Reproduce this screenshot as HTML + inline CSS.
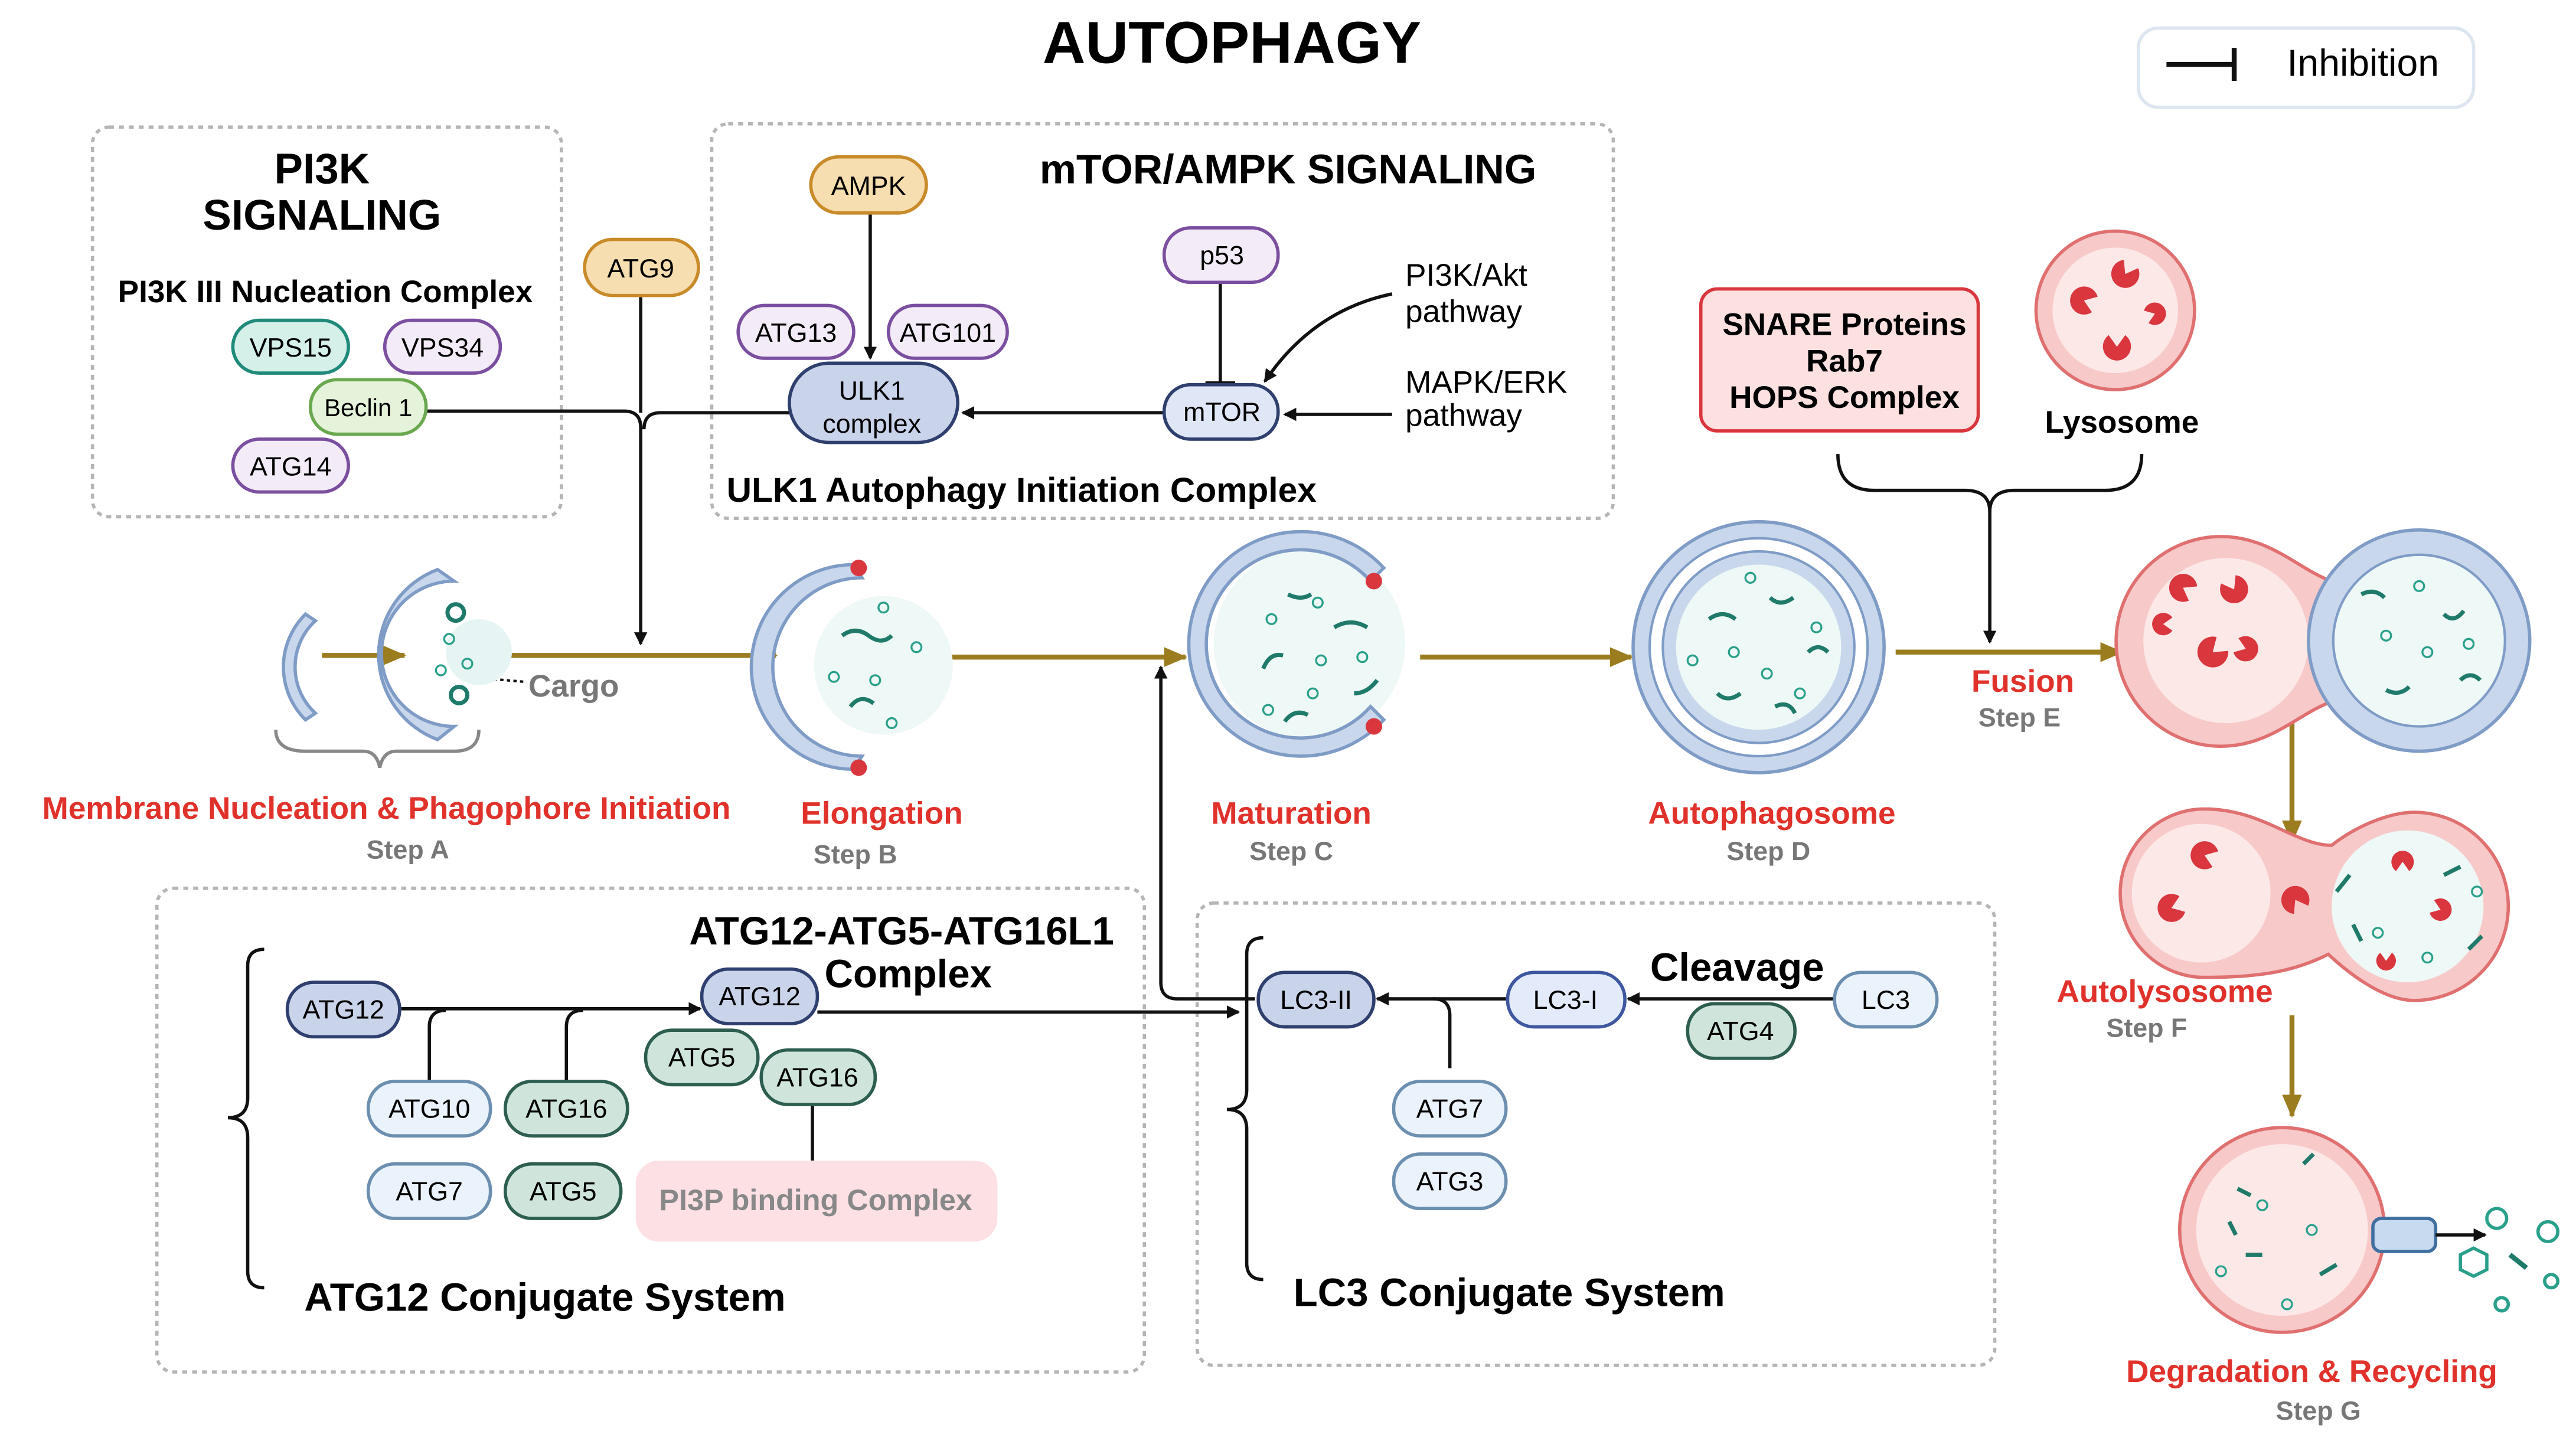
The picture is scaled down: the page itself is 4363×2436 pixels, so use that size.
<!DOCTYPE html>
<html><head><meta charset="utf-8"><style>
html,body{margin:0;padding:0;background:#fff}
svg{display:block}
text{font-family:"Liberation Sans",sans-serif}
.b{font-weight:bold}
</style></head><body>
<svg width="4363" height="2436" viewBox="0 0 1560 871" xmlns="http://www.w3.org/2000/svg">
<defs>
<marker id="ak" markerWidth="8" markerHeight="8" refX="7" refY="4" orient="auto" markerUnits="userSpaceOnUse"><path d="M0,0 L8,4 L0,8z" fill="#111"/></marker>
<marker id="ag" markerWidth="14" markerHeight="12" refX="13" refY="6" orient="auto" markerUnits="userSpaceOnUse"><path d="M0,0 L14,6 L0,12z" fill="#9b7d1f"/></marker>
<g id="pac"><path d="M0,0 L7,-5 A8.5,8.5 0 1 0 7,5z"/></g>
</defs>
<rect width="1560" height="871" fill="#fff"/>
<text x="746" y="38" text-anchor="middle" class="b" font-size="36">AUTOPHAGY</text>
<rect x="1295" y="17" width="203" height="48" rx="12" fill="#fff" stroke="#dde6f0" stroke-width="2"/>
<line x1="1312" y1="39" x2="1353" y2="39" stroke="#111" stroke-width="3"/><line x1="1353" y1="29" x2="1353" y2="49" stroke="#111" stroke-width="3"/>
<text x="1385" y="46" font-size="23">Inhibition</text>

<g fill="none" stroke="#b5b5b5" stroke-width="2" stroke-dasharray="3,3">
<rect x="56" y="77" width="284" height="236" rx="10"/>
<rect x="431" y="75" width="546" height="239" rx="10"/>
<rect x="95" y="538" width="598" height="293" rx="10"/>
<rect x="725" y="547" width="483" height="280" rx="10"/>
</g>
<text x="195" y="111" text-anchor="middle" class="b" font-size="26">PI3K</text>
<text x="195" y="139" text-anchor="middle" class="b" font-size="26">SIGNALING</text>
<text x="197" y="183" text-anchor="middle" class="b" font-size="19">PI3K III Nucleation Complex</text>
<text x="780" y="111" text-anchor="middle" class="b" font-size="25">mTOR/AMPK SIGNALING</text>
<text x="440" y="304" class="b" font-size="21">ULK1 Autophagy Initiation Complex</text>

<g stroke="#111" stroke-width="2" fill="none">
<path d="M255,249 H378 Q388,249 388,259 V390" marker-end="url(#ak)"/>
<path d="M478,250 H400 Q390,250 390,260"/>
<line x1="388" y1="180" x2="388" y2="250"/>
<line x1="527" y1="128" x2="527" y2="217" marker-end="url(#ak)"/>
<line x1="705" y1="250" x2="583" y2="250" marker-end="url(#ak)"/>
<line x1="739" y1="171" x2="739" y2="232"/>
<line x1="730" y1="232" x2="748" y2="232"/>
<path d="M843,178 Q795,188 766,231" marker-end="url(#ak)"/>
<line x1="843" y1="251" x2="778" y2="251" marker-end="url(#ak)"/>
<path d="M1113,275 Q1113,297 1135,297 H1190 Q1205,297 1205,310 V389" marker-end="url(#ak)"/>
<path d="M1297,275 Q1297,297 1275,297 H1220 Q1205,297 1205,310"/>
<line x1="243" y1="611" x2="424" y2="611" marker-end="url(#ak)"/>
<path d="M260,655 V622 Q260,612 270,612"/>
<path d="M343,655 V622 Q343,612 353,612"/>
<line x1="495" y1="613" x2="750" y2="613" marker-end="url(#ak)"/>
<line x1="492" y1="670" x2="492" y2="703"/>
<line x1="1110" y1="605" x2="986" y2="605" marker-end="url(#ak)"/>
<line x1="912" y1="605" x2="834" y2="605" marker-end="url(#ak)"/>
<path d="M878,647 V615 Q878,605 868,605"/>
<path d="M760,605 H713 Q703,605 703,595 V404" marker-end="url(#ak)"/>
<path d="M167,442 Q167,455 185,455 H220 Q228,455 230,465 Q232,455 240,455 H275 Q290,455 290,442" stroke="#888"/>
<path d="M160,575 Q150,575 150,585 V665 Q150,677 138,677 Q150,677 150,689 V770 Q150,780 160,780"/>
<path d="M765,568 Q755,568 755,578 V660 Q755,672 743,672 Q755,672 755,684 V765 Q755,775 765,775"/>
</g>

<g stroke="#9b7d1f" stroke-width="3" fill="none">
<line x1="195" y1="397" x2="245" y2="397" marker-end="url(#ag)"/>
<line x1="300" y1="397" x2="470" y2="397" marker-end="url(#ag)"/>
<line x1="560" y1="398" x2="718" y2="398" marker-end="url(#ag)"/>
<line x1="860" y1="398" x2="988" y2="398" marker-end="url(#ag)"/>
<line x1="1148" y1="395" x2="1285" y2="395" marker-end="url(#ag)"/>
<line x1="1388" y1="420" x2="1388" y2="510" marker-end="url(#ag)"/>
<line x1="1388" y1="615" x2="1388" y2="676" marker-end="url(#ag)"/>
</g>
<line x1="283" y1="410" x2="318" y2="413" stroke="#111" stroke-width="1.5" stroke-dasharray="2,2"/>
<text x="320" y="422" class="b" font-size="19" fill="#777">Cargo</text>

<circle cx="290" cy="395" r="20" fill="#e6f5f3"/>
<circle cx="535" cy="403" r="42" fill="#eef8f6"/>
<g fill="#c8d7ec" stroke="#7f9cc6" stroke-width="2">
<path d="M185,372 A45,45 0 0 0 185,436 L191,432 A38,38 0 0 1 191,376z"/>
<path d="M265,345 A55,55 0 0 0 265,448 L275,440 A44,44 0 0 1 275,352z"/>
<path d="M517,342 A60,60 0 0 0 517,466 L522,458 A52,52 0 0 1 522,350z"/>
</g>
<!-- maturation C shape -->
<circle cx="793" cy="390" r="58" fill="#eef8f6"/>
<path d="M838,344 A68,68 0 1 0 838,436 L830,428 A57,57 0 1 1 830,352z" fill="#c8d7ec" stroke="#7f9cc6" stroke-width="2"/>
<circle cx="1065" cy="392" r="76" fill="#c8d7ec" stroke="#7f9cc6" stroke-width="2"/>
<circle cx="1065" cy="392" r="66" fill="#fff" stroke="#7f9cc6" stroke-width="1.5"/>
<circle cx="1065" cy="392" r="58" fill="#c8d7ec" stroke="#7f9cc6" stroke-width="1.5"/>
<circle cx="1065" cy="392" r="50" fill="#eef8f6"/>
<!-- fusion -->
<path d="M1345,325 C1375,325 1392,345 1412,352 L1412,425 C1392,432 1375,452 1345,452 A63,63 0 0 1 1345,325z" fill="#f7c9c9" stroke="#e07070" stroke-width="2"/>
<circle cx="1348" cy="388" r="50" fill="#fde8e8"/>
<circle cx="1465" cy="388" r="67" fill="#c8d7ec" stroke="#7f9cc6" stroke-width="2"/>
<circle cx="1465" cy="388" r="52" fill="#eef8f6" stroke="#7f9cc6" stroke-width="1.5"/>
<path d="M1335,490 C1370,490 1390,512 1412,512 C1430,498 1450,492 1462,492 A57,57 0 0 1 1462,606 C1445,606 1425,592 1410,578 C1390,588 1370,592 1335,592 A51,51 0 0 1 1335,490z" fill="#f7c9c9" stroke="#e07070" stroke-width="2"/>
<circle cx="1333" cy="541" r="42" fill="#fde8e8"/>
<circle cx="1458" cy="549" r="46" fill="#eef8f6"/>
<circle cx="1382" cy="745" r="62" fill="#f7c9c9" stroke="#e07070" stroke-width="2"/>
<circle cx="1382" cy="745" r="52" fill="#fde8e8"/>
<circle cx="1281" cy="188" r="48" fill="#f7c9c9" stroke="#e07070" stroke-width="2"/>
<circle cx="1281" cy="188" r="38" fill="#fde8e8"/>
<g fill="#d9363e">
<use href="#pac" transform="translate(1287,166) rotate(-60)"/><use href="#pac" transform="translate(1262,182) rotate(20)"/><use href="#pac" transform="translate(1282,210) rotate(-90)"/><use href="#pac" transform="translate(1305,190) rotate(160) scale(0.8)"/>
<use href="#pac" transform="translate(1322,356) rotate(30)"/><use href="#pac" transform="translate(1353,357) rotate(-120)"/><use href="#pac" transform="translate(1340,395) rotate(-40) scale(1.1)"/><use href="#pac" transform="translate(1310,378) scale(0.8)"/><use href="#pac" transform="translate(1360,393) rotate(200) scale(0.9)"/>
<use href="#pac" transform="translate(1335,518) rotate(20)"/><use href="#pac" transform="translate(1315,550) rotate(-20)"/><use href="#pac" transform="translate(1390,545) rotate(60)"/><use href="#pac" transform="translate(1455,522) rotate(90) scale(0.8)"/><use href="#pac" transform="translate(1478,551) rotate(200) scale(0.8)"/><use href="#pac" transform="translate(1445,582) rotate(-90) scale(0.7)"/>
<circle cx="520" cy="344" r="5"/><circle cx="520" cy="465" r="5"/><circle cx="832" cy="352" r="5"/><circle cx="832" cy="440" r="5"/>
</g>
<g fill="none" stroke="#1f7a6a" stroke-width="2.5">
<circle cx="276" cy="371" r="5"/><circle cx="278" cy="421" r="5"/>
<path d="M510,385 q8,-6 16,0 t14,0"/><path d="M515,428 q6,-8 14,-2"/>
<path d="M765,405 q4,-10 12,-8"/><path d="M808,380 q10,-6 20,0"/><path d="M778,437 q6,-8 14,-4"/><path d="M820,420 q8,0 14,-8"/><path d="M780,360 q8,4 14,0"/>
<path d="M1035,375 q8,-6 16,0"/><path d="M1072,362 q6,6 14,0"/><path d="M1040,420 q6,6 14,0"/><path d="M1075,428 q8,-4 12,4"/><path d="M1095,395 q6,-6 12,0"/>
<path d="M1430,360 q8,-4 14,2"/><path d="M1480,372 q6,6 12,-2"/><path d="M1445,418 q8,4 14,-2"/><path d="M1490,412 q6,-6 12,0"/>
<path d="M1415,540 l8,-10"/><path d="M1480,530 l10,-5"/><path d="M1495,575 l8,-8"/><path d="M1425,560 l5,10"/>
<path d="M1355,720 l8,4"/><path d="M1395,705 l6,-6"/><path d="M1360,760 l10,0"/><path d="M1405,772 l10,-6"/><path d="M1350,740 l4,8"/>
</g>
<g fill="none" stroke="#2aa08a" stroke-width="1.2">
<circle cx="272" cy="387" r="3"/><circle cx="283" cy="402" r="3"/><circle cx="267" cy="406" r="3"/>
<circle cx="535" cy="368" r="3"/><circle cx="555" cy="392" r="3"/><circle cx="505" cy="410" r="3"/><circle cx="530" cy="412" r="3"/><circle cx="540" cy="438" r="3"/>
<circle cx="770" cy="375" r="3"/><circle cx="798" cy="365" r="3"/><circle cx="800" cy="400" r="3"/><circle cx="768" cy="430" r="3"/><circle cx="795" cy="420" r="3"/><circle cx="825" cy="398" r="3"/>
<circle cx="1025" cy="400" r="3"/><circle cx="1050" cy="395" r="3"/><circle cx="1070" cy="408" r="3"/><circle cx="1100" cy="380" r="3"/><circle cx="1060" cy="350" r="3"/><circle cx="1090" cy="420" r="3"/>
<circle cx="1445" cy="385" r="3"/><circle cx="1470" cy="395" r="3"/><circle cx="1495" cy="390" r="3"/><circle cx="1465" cy="355" r="3"/>
<circle cx="1440" cy="565" r="3"/><circle cx="1470" cy="580" r="3"/><circle cx="1500" cy="540" r="3"/>
<circle cx="1370" cy="730" r="3"/><circle cx="1345" cy="770" r="3"/><circle cx="1400" cy="745" r="3"/><circle cx="1385" cy="790" r="3"/>
<circle cx="1512" cy="738" r="6" stroke-width="2"/><circle cx="1543" cy="746" r="6" stroke-width="2"/><circle cx="1515" cy="790" r="4" stroke-width="2"/><circle cx="1545" cy="776" r="4" stroke-width="2"/>
<path d="M1490,760 l8,-4 8,4 0,9 -8,4 -8,-4z" stroke-width="2"/>
</g>
<line x1="1520" y1="760" x2="1530" y2="768" stroke="#1f7a6a" stroke-width="3"/>
<rect x="1437" y="738" width="38" height="20" rx="5" fill="#c8daf0" stroke="#3f6fa0" stroke-width="2"/>
<line x1="1475" y1="748" x2="1505" y2="748" stroke="#111" stroke-width="2" marker-end="url(#ak)"/>

<rect x="1030" y="175" width="168" height="86" rx="10" fill="#fde0e0" stroke="#d9363e" stroke-width="2"/>
<text x="1117" y="203" text-anchor="middle" class="b" font-size="19">SNARE Proteins</text>
<text x="1117" y="225" text-anchor="middle" class="b" font-size="19">Rab7</text>
<text x="1117" y="247" text-anchor="middle" class="b" font-size="19">HOPS Complex</text>
<text x="1285" y="262" text-anchor="middle" class="b" font-size="19">Lysosome</text>

<g font-size="16" text-anchor="middle" stroke-width="2">
<rect x="141" y="194" width="70" height="32" rx="16" fill="#d5efe9" stroke="#1f8a7a"/><text x="176" y="216">VPS15</text>
<rect x="233" y="194" width="70" height="32" rx="16" fill="#f3ecf8" stroke="#7b4fa0"/><text x="268" y="216">VPS34</text>
<rect x="188" y="230" width="70" height="33" rx="16" fill="#e4f3d9" stroke="#6aa84f"/><text x="223" y="252" font-size="15">Beclin 1</text>
<rect x="141" y="266" width="70" height="32" rx="16" fill="#f3ecf8" stroke="#7b4fa0"/><text x="176" y="288">ATG14</text>
<rect x="354" y="145" width="69" height="34" rx="17" fill="#f7deb0" stroke="#c98a2a"/><text x="388" y="168">ATG9</text>
<rect x="491" y="95" width="70" height="34" rx="17" fill="#f7deb0" stroke="#c98a2a"/><text x="526" y="118">AMPK</text>
<rect x="447" y="185" width="70" height="32" rx="16" fill="#f3ecf8" stroke="#7b4fa0"/><text x="482" y="207">ATG13</text>
<rect x="538" y="185" width="72" height="32" rx="16" fill="#f3ecf8" stroke="#7b4fa0"/><text x="574" y="207">ATG101</text>
<rect x="478" y="220" width="102" height="48" rx="24" fill="#c9d3ea" stroke="#2f3f6e"/><text x="528" y="242">ULK1</text><text x="528" y="262">complex</text>
<rect x="705" y="138" width="69" height="33" rx="16" fill="#f3ecf8" stroke="#7b4fa0"/><text x="740" y="160">p53</text>
<rect x="705" y="233" width="69" height="33" rx="16" fill="#dfe6f5" stroke="#2f3f6e"/><text x="740" y="255">mTOR</text>
<rect x="174" y="595" width="68" height="33" rx="16" fill="#c9d3ea" stroke="#2f3f6e"/><text x="208" y="617">ATG12</text>
<rect x="425" y="587" width="70" height="33" rx="16" fill="#c9d3ea" stroke="#2f3f6e"/><text x="460" y="609">ATG12</text>
<rect x="391" y="624" width="68" height="33" rx="16" fill="#cfe5dc" stroke="#2d5e4f"/><text x="425" y="646">ATG5</text>
<rect x="461" y="636" width="69" height="33" rx="16" fill="#cfe5dc" stroke="#2d5e4f"/><text x="495" y="658">ATG16</text>
<rect x="223" y="655" width="74" height="33" rx="16" fill="#eaf3fb" stroke="#6c8fb0"/><text x="260" y="677">ATG10</text>
<rect x="306" y="655" width="74" height="33" rx="16" fill="#cfe5dc" stroke="#2d5e4f"/><text x="343" y="677">ATG16</text>
<rect x="223" y="705" width="74" height="33" rx="16" fill="#eaf3fb" stroke="#6c8fb0"/><text x="260" y="727">ATG7</text>
<rect x="306" y="705" width="70" height="33" rx="16" fill="#cfe5dc" stroke="#2d5e4f"/><text x="341" y="727">ATG5</text>
<rect x="762" y="589" width="70" height="33" rx="16" fill="#c9d3ea" stroke="#2f3f6e"/><text x="797" y="611">LC3-II</text>
<rect x="913" y="589" width="71" height="33" rx="16" fill="#e3ebfa" stroke="#3f57a0"/><text x="948" y="611">LC3-I</text>
<rect x="1111" y="589" width="62" height="33" rx="16" fill="#eaf3fb" stroke="#6c8fb0"/><text x="1142" y="611">LC3</text>
<rect x="1022" y="608" width="65" height="33" rx="16" fill="#cfe5dc" stroke="#2d5e4f"/><text x="1054" y="630">ATG4</text>
<rect x="844" y="655" width="68" height="33" rx="16" fill="#eaf3fb" stroke="#6c8fb0"/><text x="878" y="677">ATG7</text>
<rect x="844" y="699" width="68" height="33" rx="16" fill="#eaf3fb" stroke="#6c8fb0"/><text x="878" y="721">ATG3</text>
</g>
<rect x="385" y="703" width="219" height="49" rx="14" fill="#fde0e4"/>
<text x="494" y="733" text-anchor="middle" class="b" font-size="18" fill="#888">PI3P binding Complex</text>

<g font-size="19">
<text x="851" y="173">PI3K/Akt</text><text x="851" y="195">pathway</text>
<text x="851" y="238">MAPK/ERK</text><text x="851" y="258">pathway</text>
</g>
<g>
<text x="546" y="572" text-anchor="middle" font-size="24" font-weight="bold">ATG12-ATG5-ATG16L1</text>
<text x="550" y="598" text-anchor="middle" font-size="24" font-weight="bold">Complex</text>
<text x="330" y="794" text-anchor="middle" font-size="24" font-weight="bold">ATG12 Conjugate System</text>
<text x="1052" y="594" text-anchor="middle" font-size="24" font-weight="bold">Cleavage</text>
<text x="914" y="791" text-anchor="middle" font-size="24" font-weight="bold">LC3 Conjugate System</text>
</g>
<g font-weight="bold" text-anchor="middle" font-size="19" fill="#e0312b">
<text x="234" y="496">Membrane Nucleation &amp; Phagophore Initiation</text>
<text x="534" y="499">Elongation</text>
<text x="782" y="499">Maturation</text>
<text x="1073" y="499">Autophagosome</text>
<text x="1225" y="419">Fusion</text>
<text x="1311" y="607">Autolysosome</text>
<text x="1400" y="837">Degradation &amp; Recycling</text>
</g>
<g font-weight="bold" text-anchor="middle" font-size="16" fill="#777">
<text x="247" y="520">Step A</text>
<text x="518" y="523">Step B</text>
<text x="782" y="521">Step C</text>
<text x="1071" y="521">Step D</text>
<text x="1223" y="440">Step E</text>
<text x="1300" y="628">Step F</text>
<text x="1404" y="860">Step G</text>
</g>
</svg>
</body></html>
